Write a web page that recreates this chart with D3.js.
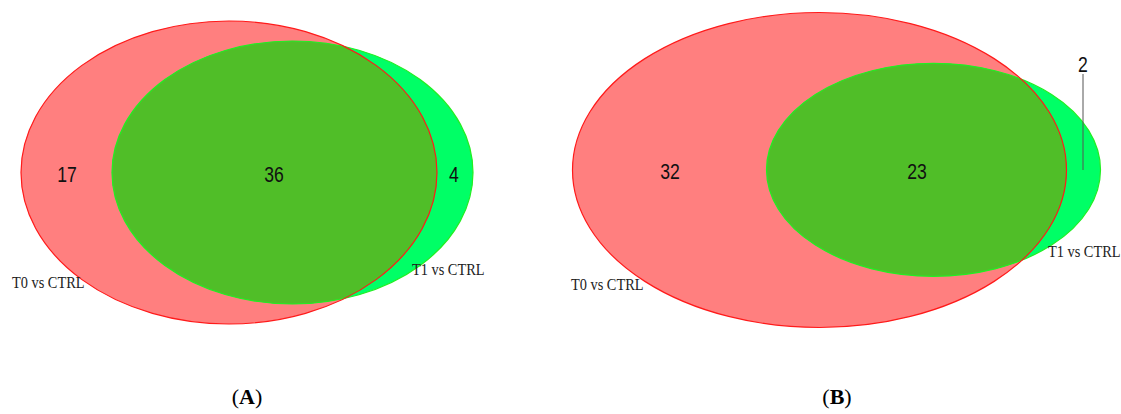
<!DOCTYPE html>
<html>
<head>
<meta charset="utf-8">
<script src="https://cdn.jsdelivr.net/npm/d3@7"></script>
<style>
  html, body { margin: 0; padding: 0; background: #fff; }
  svg { display: block; }
</style>
</head>
<body>
<div id="chart"></div>
<script>
// Two-set Venn diagrams of differentially expressed features
const panelLabels = ["A", "B"];
const setNames = ["T0 vs CTRL", "T1 vs CTRL"];
const onlyT0 = [17, 32];
const sharedT0T1 = [36, 23];
const onlyT1 = [4, 2];

const W = 1121, H = 414;
const colT0 = "#ff7f7f", strokeT0 = "#ff1a1a";
const colT1 = "#00ff66", strokeT1 = "#22ee22";
const colBoth = "#50be28";

// Ellipse layout per panel (pixel geometry of the diagram)
const layout = [
  {
    t0: { cx: 229, cy: 172.5, rx: 208, ry: 151.5 },
    t1: { cx: 292.5, cy: 172.5, rx: 180.5, ry: 131.5 },
    numT0: [67, 174], numBoth: [274, 174], numT1: [454, 174],
    nameT0: [12, 287.5], nameT1: [412, 275],
    leader: null,
    caption: 247
  },
  {
    t0: { cx: 819.5, cy: 170, rx: 247, ry: 157.5 },
    t1: { cx: 933.5, cy: 169.8, rx: 167, ry: 106.5 },
    numT0: [670, 171], numBoth: [917, 171], numT1: [1083, 64],
    nameT0: [571, 290], nameT1: [1048, 257],
    leader: [[1083, 74], [1083, 170]],
    caption: 837
  }
];

const svg = d3.select("#chart").append("svg")
  .attr("width", W).attr("height", H);

const defs = svg.append("defs");

layout.forEach((L, i) => {
  const g = svg.append("g").attr("class", "venn-" + panelLabels[i]);

  // clip for the intersection region
  defs.append("clipPath").attr("id", "clipT0-" + i)
    .append("ellipse")
    .attr("cx", L.t0.cx).attr("cy", L.t0.cy)
    .attr("rx", L.t0.rx).attr("ry", L.t0.ry);

  g.append("ellipse")
    .attr("cx", L.t0.cx).attr("cy", L.t0.cy)
    .attr("rx", L.t0.rx).attr("ry", L.t0.ry)
    .attr("fill", colT0);

  g.append("ellipse")
    .attr("cx", L.t1.cx).attr("cy", L.t1.cy)
    .attr("rx", L.t1.rx).attr("ry", L.t1.ry)
    .attr("fill", colT1);

  g.append("ellipse")
    .attr("clip-path", "url(#clipT0-" + i + ")")
    .attr("cx", L.t1.cx).attr("cy", L.t1.cy)
    .attr("rx", L.t1.rx).attr("ry", L.t1.ry)
    .attr("fill", colBoth);

  g.append("ellipse")
    .attr("cx", L.t1.cx).attr("cy", L.t1.cy)
    .attr("rx", L.t1.rx).attr("ry", L.t1.ry)
    .attr("fill", "none").attr("stroke", strokeT1).attr("stroke-width", 1.2);

  g.append("ellipse")
    .attr("cx", L.t0.cx).attr("cy", L.t0.cy)
    .attr("rx", L.t0.rx).attr("ry", L.t0.ry)
    .attr("fill", "none").attr("stroke", strokeT0).attr("stroke-width", 1.2);

  if (L.leader) {
    g.append("path")
      .attr("d", d3.line()(L.leader))
      .attr("stroke", "#555").attr("stroke-width", 1).attr("fill", "none");
  }

  // region counts, narrow sans
  const counts = [
    [onlyT0[i], L.numT0],
    [sharedT0T1[i], L.numBoth],
    [onlyT1[i], L.numT1]
  ];
  counts.forEach(([v, p]) => {
    g.append("text")
      .attr("transform", `translate(${p[0]},${p[1]}) scale(0.8,1)`)
      .attr("text-anchor", "middle")
      .attr("dominant-baseline", "central")
      .attr("font-family", "'Liberation Sans', Arial, sans-serif")
      .attr("font-size", 22)
      .attr("fill", "#111")
      .text(v);
  });

  // set names, slightly condensed serif
  [[setNames[0], L.nameT0], [setNames[1], L.nameT1]].forEach(([t, p]) => {
    g.append("text")
      .attr("transform", `translate(${p[0]},${p[1]}) scale(0.87,1)`)
      .attr("font-family", "'Liberation Serif', 'Times New Roman', serif")
      .attr("font-size", 16.5)
      .attr("fill", "#222")
      .text(t);
  });

  // panel caption
  const cap = svg.append("text")
    .attr("x", L.caption).attr("y", 404)
    .attr("text-anchor", "middle")
    .attr("font-family", "'Liberation Serif', 'Times New Roman', serif")
    .attr("font-size", 22)
    .attr("fill", "#000");
  cap.append("tspan").text("(");
  cap.append("tspan").attr("font-weight", "bold").text(panelLabels[i]);
  cap.append("tspan").text(")");
});
</script>
</body>
</html>
